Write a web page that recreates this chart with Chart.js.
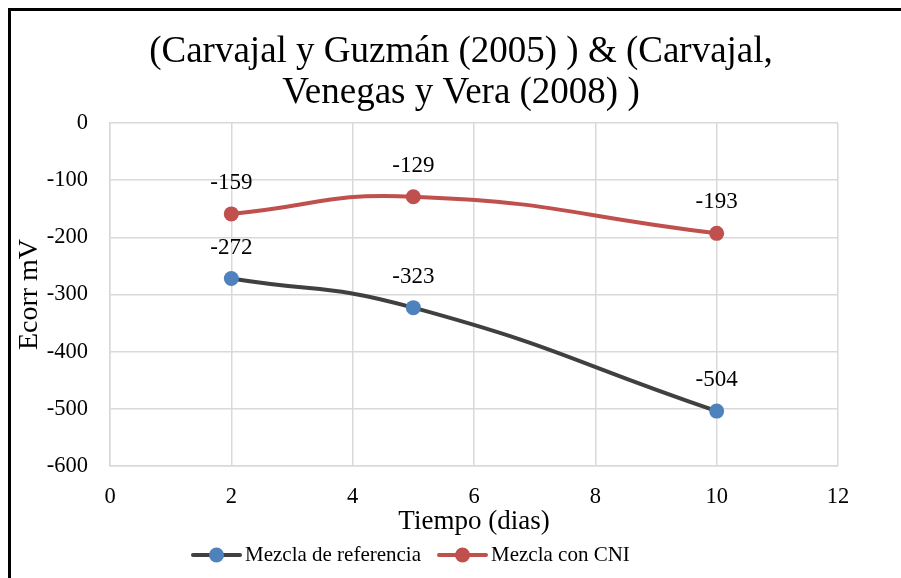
<!DOCTYPE html>
<html>
<head>
<meta charset="utf-8">
<script src="https://cdn.jsdelivr.net/npm/chart.js@4.4.0/dist/chart.umd.min.js"></script>
<style>
  html, body { margin: 0; padding: 0; background: #fff; overflow: hidden; }
  #wrap { position: relative; width: 901px; height: 578px; }
  #frame { position: absolute; left: 8px; top: 8px; width: 1000px; height: 1000px;
           border: 3px solid #000; pointer-events: none; }
</style>
</head>
<body>
<div id="wrap">
  <canvas id="chart"></canvas>
  <div id="frame"></div>
</div>
<script>
// data
const days = [2, 5, 10];
const mezclaReferencia = [-272, -323, -504];
const mezclaCNI = [-159, -129, -193];
const seriesNames = ["Mezcla de referencia", "Mezcla con CNI"];
const titleLines = ["(Carvajal y Guzmán (2005) ) & (Carvajal,", "Venegas y Vera (2008) )"];
const xTitle = "Tiempo (dias)";
const yTitle = "Ecorr mV";

const serif = '"Liberation Serif", "Times New Roman", serif';
Chart.defaults.font.family = serif;
Chart.defaults.color = '#000';

const toPoints = (ys) => days.map((d, i) => ({ x: d, y: ys[i] }));

// numbers above each marker
const valueLabels = {
  id: 'valueLabels',
  afterDatasetsDraw(chart) {
    const ctx = chart.ctx;
    ctx.save();
    ctx.font = '23px ' + serif;
    ctx.fillStyle = '#000';
    ctx.textAlign = 'center';
    ctx.textBaseline = 'middle';
    chart.data.datasets.forEach((ds, i) => {
      chart.getDatasetMeta(i).data.forEach((pt, j) => {
        ctx.fillText(String(ds.data[j].y), pt.x, pt.y - 31);
      });
    });
    ctx.restore();
  }
};

// excel style legend: line through a marker
const bottomLegend = {
  id: 'bottomLegend',
  afterDraw(chart) {
    const ctx = chart.ctx;
    let x = 193;
    const y = 555;
    ctx.save();
    ctx.font = '21px ' + serif;
    ctx.textBaseline = 'middle';
    ctx.lineCap = 'round';
    chart.data.datasets.forEach(ds => {
      ctx.strokeStyle = ds.borderColor;
      ctx.lineWidth = 4;
      ctx.beginPath();
      ctx.moveTo(x, y);
      ctx.lineTo(x + 47, y);
      ctx.stroke();
      ctx.fillStyle = ds.pointBackgroundColor;
      ctx.beginPath();
      ctx.arc(x + 23.5, y, 7.5, 0, Math.PI * 2);
      ctx.fill();
      ctx.fillStyle = '#000';
      ctx.fillText(ds.label, x + 52, y);
      x += 52 + ctx.measureText(ds.label).width + 18;
    });
    ctx.restore();
  }
};

new Chart(document.getElementById('chart'), {
  type: 'scatter',
  data: {
    datasets: [
      {
        label: seriesNames[0],
        data: toPoints(mezclaReferencia),
        showLine: true,
        borderColor: '#404040',
        backgroundColor: '#4f81bd',
        pointBackgroundColor: '#4f81bd',
        pointBorderWidth: 0,
        pointRadius: 7.5,
        borderWidth: 4,
        borderCapStyle: 'round',
        tension: 0.5
      },
      {
        label: seriesNames[1],
        data: toPoints(mezclaCNI),
        showLine: true,
        borderColor: '#c0504d',
        backgroundColor: '#c0504d',
        pointBackgroundColor: '#c0504d',
        pointBorderWidth: 0,
        pointRadius: 7.5,
        borderWidth: 4,
        borderCapStyle: 'round',
        tension: 0.5
      }
    ]
  },
  options: {
    responsive: true,
    maintainAspectRatio: false,
    animation: false,
    events: [],
    // right padding is negative so the title centres where excel put it,
    // the empty right axis then pulls the plot back to its place
    layout: { padding: { left: 10, right: -11, top: 0, bottom: 0 } },
    plugins: {
      legend: { display: false },
      tooltip: { enabled: false },
      title: {
        display: true,
        text: titleLines,
        color: '#000',
        font: { family: serif, size: 37, weight: 'normal', lineHeight: 1.108 },
        padding: { top: 32, bottom: 9 }
      }
    },
    scales: {
      x: {
        type: 'linear',
        min: 0,
        max: 12,
        afterFit: s => { s.height = 112; },
        ticks: { stepSize: 2, padding: 18, color: '#000', font: { size: 22.5 } },
        grid: { color: '#d9d9d9', lineWidth: 1.5, drawTicks: false },
        border: { color: '#d9d9d9', width: 1.5 },
        title: { display: true, text: xTitle, color: '#000',
                 font: { size: 27 }, padding: { top: 0, bottom: 40 } }
      },
      y: {
        min: -600,
        max: 0,
        afterFit: s => { s.width = 100; },
        ticks: { stepSize: 100, padding: 22, color: '#000', font: { size: 22.5 } },
        grid: { color: '#d9d9d9', lineWidth: 1.5, drawTicks: false },
        border: { color: '#d9d9d9', width: 1.5 },
        title: { display: true, text: yTitle, color: '#000',
                 font: { size: 28 }, padding: { top: 3, bottom: 0 } }
      },
      yRight: {
        position: 'right',
        min: -600,
        max: 0,
        afterFit: s => { s.width = 74; },
        ticks: { display: false },
        grid: { display: false, drawOnChartArea: false },
        border: { display: false }
      }
    }
  },
  plugins: [valueLabels, bottomLegend]
});
</script>
</body>
</html>
